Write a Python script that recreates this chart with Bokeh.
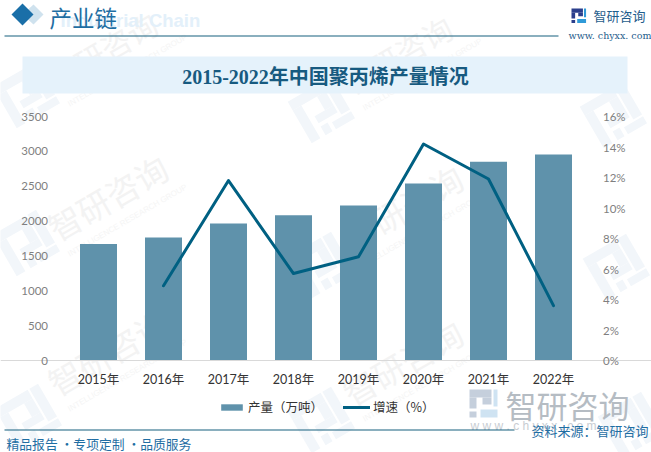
import math
from bokeh.plotting import figure
from bokeh.embed import file_html
from bokeh.resources import INLINE
from bokeh.models import (Range1d, LinearAxis, Label, PolyAnnotation, FixedTicker, NumeralTickFormatter,
                          CustomJSTickFormatter, Legend, LegendItem)

years = ["2015年", "2016年", "2017年", "2018年", "2019年", "2020年", "2021年", "2022年"]
output = [1670, 1765, 1965, 2085, 2225, 2540, 2850, 2955]
growth_years = years[1:]
growth = [4.9, 11.8, 5.7, 6.8, 14.2, 11.9, 3.6]
left_ticks = [0, 500, 1000, 1500, 2000, 2500, 3000, 3500]
right_ticks = [0, 2, 4, 6, 8, 10, 12, 14, 16]

W, H = 651, 452
PLOT_L, PLOT_R, PLOT_T, PLOT_B = 66, 586, 116, 360
STEP = (PLOT_R - PLOT_L) / len(years)
PX = (PLOT_B - PLOT_T)
CJK = "Noto Sans CJK SC"
SERIF_MIX = "'Liberation Serif','Noto Sans CJK SC'"
LATO_MIX = "Lato,'Noto Sans CJK SC'"

def ext(top):
    return Range1d(-(H - PLOT_B) * top / PX, top + PLOT_T * top / PX)

p = figure(width=W, height=H, x_range=years, y_range=ext(3500), output_backend="svg", toolbar_location=None,
           min_border=0, background_fill_color="white", border_fill_color="white", outline_line_color=None)
p.x_range.factor_padding = 0
p.x_range.range_padding_units = "absolute"
p.x_range.range_padding = (W - (PLOT_R - PLOT_L)) / STEP / 2
p.xgrid.visible = False
p.ygrid.visible = False

def label(text, x, y, size, color, font=CJK, align="left", style="normal", angle=0, level="annotation"):
    p.add_layout(Label(x=x, y=y, x_units="canvas", y_units="canvas", text=text, text_font=font,
                       text_font_size=f"{size}px", text_color=color, text_align=align, text_font_style=style,
                       text_baseline="middle", angle=angle, angle_units="deg", level=level))

def poly(xs, ys, color, level="annotation"):
    p.add_layout(PolyAnnotation(xs=xs, ys=ys, xs_units="canvas", ys_units="canvas", fill_color=color,
                                fill_alpha=1, line_color=None, level=level))

def box(l, r, t, b, color, level="annotation"):
    poly([l, r, r, l], [t, t, b, b], color, level)

def rbox(cx, cy, l, r, t, b, color, deg=30):
    a = math.radians(deg)
    pts = [(l, t), (r, t), (r, b), (l, b)]
    xs = [cx + u * math.cos(a) + v * math.sin(a) for u, v in pts]
    ys = [cy - u * math.sin(a) + v * math.cos(a) for u, v in pts]
    poly(xs, ys, color, "underlay")

def logo_mark(cx, cy):
    c = "#f2f6fa"
    rbox(cx, cy, -24, 14, -24, -14, c)
    rbox(cx, cy, -24, -14, -14, 24, c)
    rbox(cx, cy, 4, 14, -14, 2, c)
    rbox(cx, cy, -8, 14, 2, 10, c)
    rbox(cx, cy, 16, 26, -24, 14, c)
    rbox(cx, cy, -8, 0, 14, 24, c)
    rbox(cx, cy, 4, 26, 16, 24, c)

def flat_logo(x, y, s, c1, c2):
    def b(l, r, t, bt, c):
        box(x + l * s, x + r * s, y + t * s, y + bt * s, c)
    b(0, 22, 0, 8, c1)
    b(0, 7, 8, 19, c1)
    b(0, 7, 22, 28, c1)
    b(13, 22, 8, 15, c1)
    b(24, 28, 0, 17, c2)
    b(11, 28, 20, 28, c2)

# watermarks
for lx, ly in [(25, 95), (320, 110), (612, 115), (25, 243), (320, 265), (615, 267), (27, 417), (320, 420), (630, 425)]:
    logo_mark(lx, ly)
for tx, ty, sz in [(50, 230, 33), (345, 240, 33), (50, 385, 33), (345, 395, 33), (50, 80, 30), (345, 84, 30)]:
    label("智研咨询", tx, ty, sz, "#f3f3f3", angle=30, level="underlay")
    label("INTELLIGENCE RESEARCH GROUP", tx + 18, ty + 24, 8, "#f5f5f5", font="Liberation Sans", angle=30, level="underlay")

# header
poly([22, 33, 43, 33], [14, 4, 14, 24], "#cfe2ee")
poly([11, 22, 33, 22], [14, 3, 14, 25], "#1a6fa8")
label("Industrial Chain", 60, 20, 18.5, "#e3f0fa", font="Liberation Sans", style="bold")
label("产业链", 49, 16, 22.5, "#1f6ea3")
box(4, 558, 35, 36, "#17607f")
flat_logo(571, 8, 0.52, "#2b3f8c", "#2f9ad8")
label("智研咨询", 593, 15, 13, "#1f5d8c")
label("www. chyxx. com", 568, 35, 9.5, "#1f5d8c", font="DejaVu Serif")

# title band
box(22, 627, 56, 93, "#e5f2fb", "underlay")
label("2015-2022年中国聚丙烯产量情况", 325, 76, 20, "#175a80", font=SERIF_MIX, align="center", style="bold")

# chart
p.extra_y_ranges = {"pct": ext(16)}
bars = p.vbar(x=years, top=output, width=37 / STEP, color="#5f92ab", line_color=None)
line = p.line(x=growth_years, y=growth, y_range_name="pct", line_color="#006082", line_width=3,
              line_join="round", line_cap="round")

def style_axis(ax, standoff):
    ax.major_tick_line_color = None
    ax.minor_tick_line_color = None
    ax.axis_line_color = None
    ax.major_label_text_color = "#7f7f7f"
    ax.major_label_text_font = "Lato"
    ax.major_label_text_font_size = "11.5px"
    ax.major_label_standoff = standoff

ya = p.yaxis[0]
ya.ticker = FixedTicker(ticks=left_ticks)
ya.formatter = NumeralTickFormatter(format="0")
ya.fixed_location = 0.0
style_axis(ya, 12)
right = LinearAxis(y_range_name="pct", ticker=FixedTicker(ticks=right_ticks),
                   formatter=CustomJSTickFormatter(code="return tick + '%'"), fixed_location=float(len(years)))
style_axis(right, 11)
p.add_layout(right, "right")

xa = p.xaxis[0]
xa.fixed_location = 0.0
xa.major_tick_line_color = None
xa.axis_line_color = "#d9d9d9"
xa.major_label_text_color = "#333333"
xa.major_label_text_font = LATO_MIX
xa.major_label_text_font_size = "12.5px"
xa.major_label_standoff = 5

# legend
lg = Legend(items=[LegendItem(label="产量（万吨）", renderers=[bars]), LegendItem(label="增速（%）", renderers=[line])],
            orientation="horizontal", location=(218, 36), background_fill_alpha=0, border_line_color=None,
            label_text_font=CJK, label_text_font_size="12.5px", label_text_color="#333333",
            glyph_width=27, glyph_height=8, spacing=20, margin=0, padding=0, label_standoff=3)
p.add_layout(lg, "center")

# bottom logo and footer
flat_logo(469, 389, 1.0, "#c5cfdc", "#cfe3f2")
label("智研咨询", 505, 404, 31, "#b5bcc3")
label("w w w . c h y x x . c o m", 470, 425, 12, "#c8cdd2", font="Liberation Sans")
box(4, 514, 429, 430, "#17607f")
label("资料来源：智研咨询", 648, 430, 13, "#1f6ea3", align="right")
label("精品报告 ·专项定制 ·品质服务", 6, 442.5, 12.8, "#1f6ea3")

open("out.html", "w").write(file_html(p, INLINE))
